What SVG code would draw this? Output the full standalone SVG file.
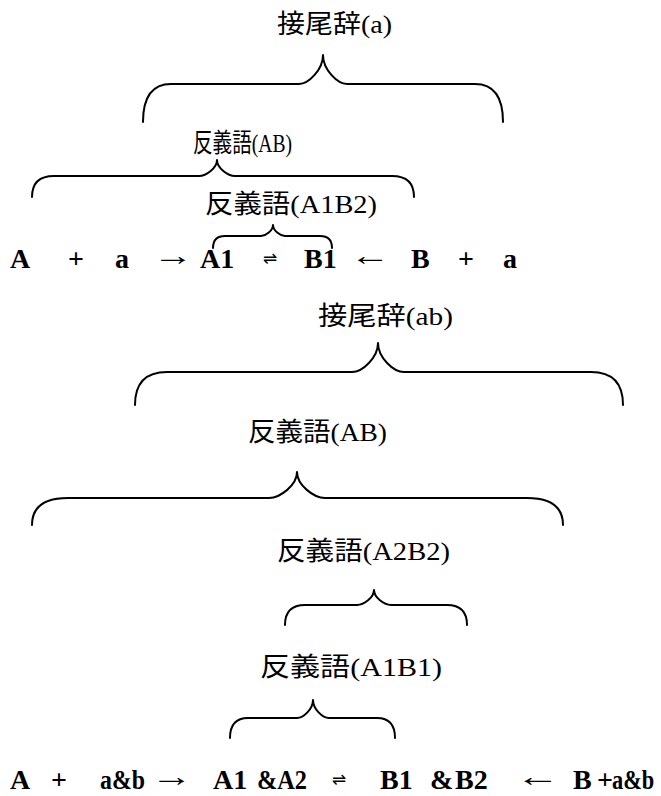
<svg xmlns="http://www.w3.org/2000/svg" width="661" height="796" viewBox="0 0 661 796">
  <style>
    .lbl { font-family: 'Liberation Serif', 'Noto Sans CJK JP', serif; font-size: 26px; fill: #000; }
    .eq { font-family: 'Liberation Serif', 'DejaVu Serif', serif; font-size: 28px; font-weight: bold; fill: #000; }
    .sym { font-family: 'DejaVu Sans', sans-serif; font-size: 17px; fill: #000; }
    .arr { font-family: 'Liberation Serif', 'DejaVu Serif', serif; font-size: 28px; fill: #000; }
    .brace { fill: none; stroke: #000; stroke-width: 2; stroke-linecap: round; stroke-linejoin: round; }
  </style>
  <rect width="661" height="796" fill="#fff"/>

  <!-- braces -->
  <g id="connectors">
    <path class="brace" d="M143 122 Q143 84 171 84 L299 84 C308.6 84 323 69.5 323 55 C323 69.5 337.4 84 347 84 L475 84 Q503 84 503 122"/>
    <path class="brace" d="M32 197 Q32 176 54 176 L199 176 C206.2 176 217 168 217 160 C217 168 227.8 176 235 176 L392 176 Q414 176 414 197"/>
    <path class="brace" d="M213 248 Q213 236 225 236 L261 236 C265.8 236 273 230.5 273 225 C273 230.5 280.2 236 285 236 L320 236 Q332 236 332 248"/>
    <path class="brace" d="M135 405 Q135 372 167 372 L352 372 C362.4 372 378 357.5 378 343 C378 357.5 393.6 372 404 372 L591 372 Q623 372 623 405"/>
    <path class="brace" d="M32 525 Q32 498 68 498 L269 498 C280.2 498 297 485 297 472 C297 485 313.8 498 325 498 L527 498 Q563 498 563 525"/>
    <path class="brace" d="M285 625 Q285 605 305 605 L357 605 C363.8 605 374 597.5 374 590 C374 597.5 384.2 605 391 605 L447 605 Q467 605 467 625"/>
    <path class="brace" d="M230 738 Q230 718 248 718 L297 718 C303.4 718 313 709 313 700 C313 709 322.6 718 329 718 L377 718 Q395 718 395 738"/>
  </g>

  <!-- labels, upper scheme -->
  <g id="suffix-a"><text class="lbl" x="277" y="33" textLength="115" lengthAdjust="spacingAndGlyphs">接尾辞(a)</text></g>
  <g id="antonym-ab-1"><text class="lbl" x="193" y="152" font-size="25" textLength="99" lengthAdjust="spacingAndGlyphs">反義語(AB)</text></g>
  <g id="antonym-a1b2"><text class="lbl" x="205" y="213" textLength="172" lengthAdjust="spacingAndGlyphs">反義語(A1B2)</text></g>

  <!-- upper formula -->
  <g id="formula-1">
    <text class="eq" x="10" y="268">A</text>
    <text class="eq" x="68" y="268">+</text>
    <text class="eq" x="115" y="268">a</text>
    <text class="arr" transform="translate(153 265) scale(1.45 1)">→</text>
    <text class="eq" x="200" y="268">A1</text>
    <text class="sym" x="263" y="264">⇌</text>
    <text class="eq" x="304" y="268">B1</text>
    <text class="arr" transform="translate(350 265) scale(1.45 1)">←</text>
    <text class="eq" x="411" y="268">B</text>
    <text class="eq" x="458" y="268">+</text>
    <text class="eq" x="503" y="268">a</text>
  </g>

  <!-- labels, lower scheme -->
  <g id="suffix-ab"><text class="lbl" x="318" y="325" textLength="135" lengthAdjust="spacingAndGlyphs">接尾辞(ab)</text></g>
  <g id="antonym-ab-2"><text class="lbl" x="248" y="441" textLength="139" lengthAdjust="spacingAndGlyphs">反義語(AB)</text></g>
  <g id="antonym-a2b2"><text class="lbl" x="277" y="560" textLength="173" lengthAdjust="spacingAndGlyphs">反義語(A2B2)</text></g>
  <g id="antonym-a1b1"><text class="lbl" x="260" y="676" textLength="182" lengthAdjust="spacingAndGlyphs">反義語(A1B1)</text></g>

  <!-- lower formula -->
  <g id="formula-2">
    <text class="eq" x="10" y="789">A</text>
    <text class="eq" x="51" y="789">+</text>
    <text class="eq" x="100" y="789" font-size="25" textLength="45" lengthAdjust="spacingAndGlyphs">a&amp;b</text>
    <text class="arr" transform="translate(151 786) scale(1.5 1)">→</text>
    <text class="eq" x="213" y="789">A1</text>
    <text class="eq" x="257" y="789" textLength="50" lengthAdjust="spacingAndGlyphs">&amp;A2</text>
    <text class="sym" x="332" y="785">⇌</text>
    <text class="eq" x="380" y="789">B1</text>
    <text class="eq" x="430" y="789">&amp;</text>
    <text class="eq" x="455" y="789">B2</text>
    <text class="arr" transform="translate(515 786) scale(1.6 1)">←</text>
    <text class="eq" x="573" y="789">B</text>
    <text class="eq" x="597" y="789">+</text>
    <text class="eq" font-size="27" transform="translate(612 789) scale(0.8 1)">a&amp;b</text>
  </g>
</svg>
